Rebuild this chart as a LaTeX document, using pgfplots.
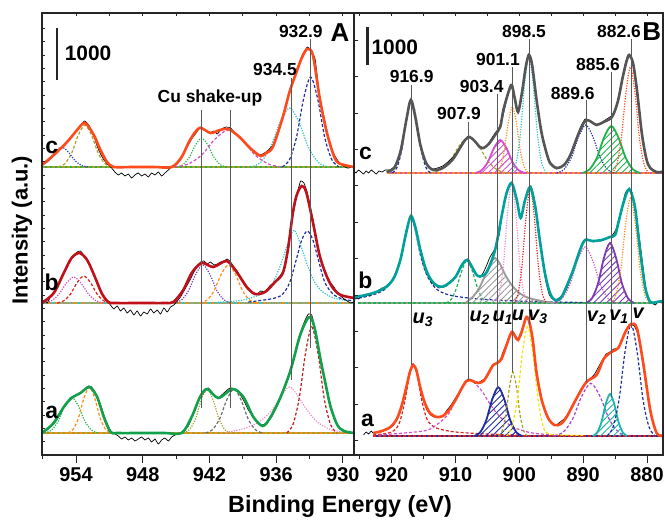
\documentclass[border=0pt]{standalone}
\usepackage{fontspec}
\setmainfont{Liberation Sans}
\usepackage{pgfplots}
\pgfplotsset{compat=1.18}
\usetikzlibrary{patterns.meta}

\definecolor{fitred}{HTML}{FF4A1C}
\definecolor{fitdark}{HTML}{C0101A}
\definecolor{fitgreen}{HTML}{12A14A}
\definecolor{fitgrey}{HTML}{555555}
\definecolor{fitteal}{HTML}{00A19A}
\definecolor{cnavy}{HTML}{1F2E9E}
\definecolor{ccyan}{HTML}{2EC4C4}
\definecolor{colive}{HTML}{A8A024}
\definecolor{cmag}{HTML}{D14FC8}
\definecolor{cpink}{HTML}{F08CCB}
\definecolor{cpurple}{HTML}{7A3CB0}
\definecolor{corange}{HTML}{FF8C1A}
\definecolor{cgreen}{HTML}{22B24C}
\definecolor{cyellow}{HTML}{F2E600}
\definecolor{cblue}{HTML}{2040D0}
\definecolor{cred}{HTML}{E02020}
\definecolor{cgrey}{HTML}{9A9A9A}
\definecolor{cteal}{HTML}{1FB5AA}

\pgfplotsset{
  panel/.style={scale only axis, height=442bp, ymin=0, ymax=442, x dir=reverse,
    axis line style={line width=1.1bp, black!85}, ytick=\empty, xtick pos=bottom,
    tick align=outside, major tick length=8bp, minor tick length=4bp,
    every tick/.style={line width=1bp, black!85},
    /pgf/number format/assume math mode=true,
    xticklabel style={font=\fontsize{20}{20}\selectfont\bfseries, anchor=north, yshift=-1bp},
    no markers},
  inside/.style={scale only axis, height=442bp, ymin=0, ymax=442, x dir=reverse,
    axis line style={line width=1.1bp, black!85}, xtick pos=top, ytick pos=left,
    tick align=inside, major tick length=3.5bp, xticklabels={}, yticklabels={},
    every tick/.style={line width=0.9bp, black!85}},
  fit/.style={smooth, line width=2.6bp, color=#1},
  raw/.style={smooth, tension=0.3, line width=0.7bp, black},
  dsh/.style={smooth, line width=1.2bp, color=#1, dash pattern=on 3bp off 2bp},
  dts/.style={smooth, line width=1.2bp, color=#1, dash pattern=on 1.2bp off 1.4bp},
  hatch/.style={smooth, line width=1.8bp, draw=#1,
    pattern={Lines[angle=45,distance=4.5bp,line width=0.9bp]}, pattern color=#1},
  guide/.style={line width=0.9bp, black!65},
}
\tikzset{lab/.style={font=\fontsize{17.5}{18}\selectfont\bfseries, inner sep=0pt},
  big/.style={font=\fontsize{23}{24}\selectfont\bfseries, inner sep=0pt},
  uv/.style={font=\fontsize{20}{20}\selectfont\bfseries\itshape, inner sep=0pt}}

\begin{document}
\begin{tikzpicture}
\useasboundingbox (-42bp,-66bp) rectangle (623bp,455bp);

% ---------------- panel A : Cu 2p ----------------
\begin{axis}[panel, at={(0bp,0bp)}, anchor=south west, width=312bp,
  xmin=929.0, xmax=957.06,
  xtick={930,936,942,948,954},
  minor xtick={933,939,945,951,957}]

% baselines
\addplot[line width=2bp, cgreen] coordinates {(957.06,288) (929,288)};
\addplot[line width=1.2bp, colive, dash pattern=on 3bp off 2bp] coordinates {(957.06,288) (929,288)};
\addplot[line width=2bp, corange] coordinates {(957.06,152) (929,152)};
\addplot[line width=1.2bp, ccyan, dash pattern=on 1.2bp off 1.4bp] coordinates {(957.06,152) (929,152)};
\addplot[line width=2bp, corange] coordinates {(957.06,22) (929,22)};
\addplot[line width=1.2bp, colive, dash pattern=on 3bp off 2bp] coordinates {(957.06,22) (929,22)};

% c components
\addplot[dsh=colive] coordinates {(955.6,288) (955.0,291.4) (954.4,301.7) (953.8,319.7) (953.2,330) (952.6,319.7) (952.0,301.7) (951.4,291.4) (950.8,288)};
\addplot[dts=cblue] coordinates {(957.7,288) (957.1,289.6) (956.5,294.5) (955.9,303.1) (955.3,308) (954.7,303.1) (954.1,294.5) (953.5,289.6) (952.9,288)};
\addplot[dts=cgreen] coordinates {(944.95,288) (944.39,290.3) (943.83,297.4) (943.26,309.9) (942.7,317) (942.14,309.9) (941.58,297.4) (941.01,290.3) (940.45,288)};
\addplot[dsh=cmag] coordinates {(945.1,288) (943.9,291) (942.7,300) (941.5,315.9) (940.3,325) (939.1,315.9) (937.9,300) (936.7,291) (935.5,288)};
\addplot[dts=ccyan] coordinates {(938.25,288) (937.39,292.7) (936.53,307.2) (935.66,332.5) (934.8,347) (933.94,332.5) (933.08,307.2) (932.21,292.7) (931.35,288)};
\addplot[dsh=cnavy] coordinates {(935.45,288) (934.81,295.2) (934.18,317.3) (933.54,355.9) (932.9,378) (932.26,355.9) (931.63,317.3) (930.99,295.2) (930.35,288)};

% b components
\addplot[dts=cmag] coordinates {(956.9,152) (956.23,154.1) (955.55,160.5) (954.88,171.6) (954.2,178) (953.53,171.6) (952.85,160.5) (952.18,154.1) (951.5,152)};
\addplot[dsh=cred] coordinates {(955.7,152) (955.1,154.2) (954.5,160.8) (953.9,172.4) (953.3,179) (952.7,172.4) (952.1,160.8) (951.5,154.2) (950.9,152)};
\addplot[dts=cpurple] coordinates {(945.15,152) (944.51,155) (943.88,164.4) (943.24,180.7) (942.6,190) (941.96,180.7) (941.33,164.4) (940.69,155) (940.05,152)};
\addplot[dsh=corange] coordinates {(942.85,152) (942.21,155) (941.58,164.4) (940.94,180.7) (940.3,190) (939.66,180.7) (939.03,164.4) (938.39,155) (937.75,152)};
\addplot[dts=ccyan] coordinates {(941.5,152.5) (939.5,154) (938,158) (937,163) (936.3,172) (935.6,190) (935.0,210) (934.4,225) (933.8,210) (933.2,190) (932.5,172) (931.8,163) (930.8,157) (929.5,154)};
\addplot[dsh=cnavy] coordinates {(938.5,153) (936.5,156) (935.5,160) (934.8,172) (934.2,195) (933.7,215) (933.2,224) (932.7,215) (932.2,195) (931.6,172) (930.8,160) (930,156) (929,154)};

% a components
\addplot[dts=cgreen] coordinates {(956.8,22) (956.2,24.9) (955.6,33.7) (955.0,49.2) (954.4,58) (953.8,49.2) (953.2,33.7) (952.6,24.9) (952.0,22)};
\addplot[dsh=corange] coordinates {(954.75,22) (954.26,25.7) (953.78,37) (953.29,56.7) (952.8,68) (952.31,56.7) (951.83,37) (951.34,25.7) (950.85,22)};
\addplot[dts=colive] coordinates {(944.3,22) (943.78,25.5) (943.25,36.3) (942.73,55.2) (942.2,66) (941.68,55.2) (941.15,36.3) (940.63,25.5) (940.1,22)};
\addplot[dsh=cgrey!70!black] coordinates {(942.35,22) (941.71,25.5) (941.08,36.3) (940.44,55.2) (939.8,66) (939.16,55.2) (938.53,36.3) (937.89,25.5) (937.25,22)};
\addplot[dts=cpink] coordinates {(940.5,22.5) (938.7,27) (937.3,35) (936.3,46) (935.5,60) (934.8,68) (934.1,60) (933.3,46) (932.3,33) (931,25) (929.5,22.5)};
\addplot[dsh=cred!85!black] coordinates {(935.05,22) (934.49,30.5) (933.93,56.5) (933.36,102) (932.8,128) (932.24,102) (931.68,56.5) (931.11,30.5) (930.55,22)};

% raw data
\addplot[raw] coordinates {(957.06,290) (956.6,293) (956.2,297) (955.8,302) (955.3,308) (954.8,314) (954.4,318) (954.0,324) (953.6,330) (953.2,334) (952.8,329) (952.4,319) (952.0,306) (951.6,297) (951.2,291) (950.8,287) (950.5,283) (950.2,280) (949.9,282) (949.6,279) (949.3,281) (949.0,277) (948.7,280) (948.4,282) (948.1,279) (947.8,281) (947.5,278) (947.2,282) (946.9,280) (946.6,283) (946.3,279) (946.0,282) (945.7,285) (945.4,288) (945.0,290) (944.5,297) (944.0,308) (943.6,316) (943.2,322) (942.8,328) (942.4,325) (942.0,322) (941.6,324) (941.3,321) (940.9,326) (940.5,328) (940.1,327) (939.7,322) (939.2,317) (938.7,310) (938.2,305) (937.7,300) (937.2,301) (936.8,304) (936.3,310) (935.8,325) (935.3,342) (934.8,364) (934.4,378) (934.0,390) (933.6,401) (933.2,408) (932.9,405) (932.5,396) (932.1,360) (931.7,338) (931.3,318) (930.9,303) (930.5,295) (930.1,290) (929.6,287) (929.0,288)};
\addplot[raw] coordinates {(957.06,153) (956.8,155) (956.6,152) (956.3,158) (956.0,163) (955.7,169) (955.4,176) (955.1,183) (954.8,189) (954.5,196) (954.2,199) (953.9,203) (953.6,204) (953.3,200) (953.0,196) (952.7,188) (952.4,180) (952.1,171) (951.8,164) (951.5,158) (951.2,154) (950.9,150) (950.6,146) (950.3,149) (950.0,144) (949.7,147) (949.4,142) (949.1,145) (948.8,140) (948.5,144) (948.2,139) (947.9,143) (947.6,141) (947.3,146) (947.0,142) (946.7,145) (946.4,141) (946.1,147) (945.8,143) (945.5,148) (945.2,150) (944.9,154) (944.6,158) (944.3,164) (944.0,170) (943.7,176) (943.4,183) (943.1,188) (942.8,193) (942.5,194) (942.2,191) (941.9,193) (941.6,190) (941.3,191) (941.0,193) (940.7,194) (940.4,196) (940.1,193) (939.8,188) (939.5,184) (939.2,178) (938.9,173) (938.6,168) (938.3,164) (938.0,162) (937.7,161) (937.4,164) (937.1,163) (936.8,166) (936.5,170) (936.2,172) (935.9,176) (935.6,180) (935.3,186) (935.0,203) (934.7,225) (934.4,245) (934.1,262) (933.8,274) (933.5,272) (933.2,262) (932.9,246) (932.6,230) (932.3,210) (932.0,195) (931.7,186) (931.4,178) (931.1,172) (930.8,168) (930.5,162) (930.2,159) (929.9,156) (929.6,154) (929.3,152) (929.0,153)};
\addplot[raw] coordinates {(957.06,22) (956.8,24) (956.5,26) (956.2,30) (955.9,35) (955.6,40) (955.3,45) (955.0,50) (954.7,54) (954.4,58) (954.1,59) (953.8,61) (953.5,63) (953.2,66) (952.9,69) (952.6,68) (952.3,63) (952.0,56) (951.7,47) (951.4,37) (951.1,29) (950.8,23) (950.5,21) (950.2,19) (949.9,16) (949.6,18) (949.3,15) (949.0,17) (948.7,14) (948.4,16) (948.1,18) (947.8,15) (947.5,17) (947.2,13) (946.9,16) (946.6,11) (946.3,15) (946.0,17) (945.7,14) (945.4,18) (945.1,20) (944.8,21) (944.5,23) (944.2,26) (943.9,29) (943.6,37) (943.3,45) (943.0,54) (942.7,60) (942.4,64) (942.1,67) (941.8,63) (941.5,59) (941.2,57) (940.9,60) (940.6,63) (940.3,66) (940.0,67) (939.7,65) (939.4,63) (939.1,58) (938.8,52) (938.5,45) (938.2,40) (937.9,35) (937.6,32) (937.3,30) (937.0,31) (936.7,34) (936.4,38) (936.1,45) (935.8,52) (935.5,60) (935.2,68) (934.9,77) (934.6,88) (934.3,102) (934.0,116) (933.7,126) (933.4,135) (933.1,141) (932.8,140) (932.5,126) (932.2,108) (931.9,90) (931.6,72) (931.3,57) (931.0,44) (930.7,35) (930.4,28) (930.1,25) (929.8,23) (929.4,22) (929.0,22)};

% fitted envelopes
\addplot[fit=fitred] coordinates {(957.06,290) (956.0,300) (954.8,313) (953.9,325) (953.2,332) (952.4,320) (951.8,305) (951.2,293) (950.6,288) (949,288) (947,288) (945.4,288) (944.5,298) (943.75,315) (942.9,327) (941.9,322) (941.05,325) (940.3,326) (939.3,318) (938.35,307) (937.4,299) (936.9,302) (936.3,308) (935.4,338) (934.8,363) (934.2,382) (933.7,397) (933.2,406) (932.7,400) (932.1,358) (931.5,325) (930.9,302) (930.4,292) (929.0,288)};
\addplot[fit=fitdark] coordinates {(957.06,152) (956.0,162) (955.1,182) (954.4,197) (953.7,202) (953.0,195) (952.3,178) (951.7,162) (951.1,153) (950.5,152) (948,152) (946,152) (945.25,153) (944.35,165) (943.6,182) (942.7,192) (941.65,188) (940.45,194) (939.55,183) (938.65,168) (937.9,161) (937.0,163) (936.1,173) (935.4,182) (934.95,205) (934.5,242) (934.15,260) (933.7,269) (933.3,263) (932.7,233) (932.1,200) (931.5,180) (930.9,167) (930.2,160) (929.0,157)};
\addplot[fit=fitgreen] coordinates {(957.06,22) (956.0,32) (955.1,48) (954.4,57) (953.6,62) (952.8,68) (952.1,58) (951.5,38) (950.9,23) (950.3,22) (948,22) (946,22) (944.5,22) (943.6,38) (942.85,58) (942.2,66) (941.2,57) (939.9,66) (938.95,58) (938.05,38) (937.2,29) (936.5,38) (935.6,58) (934.7,85) (933.9,118) (933.3,134) (932.9,138) (932.5,125) (932.0,95) (931.5,68) (931.1,48) (930.5,30) (929.9,24) (929.0,22)};

% guide lines
\addplot[guide] coordinates {(942.7,345) (942.7,47)};
\addplot[guide] coordinates {(940.1,345) (940.1,47)};
\addplot[guide] coordinates {(934.6,377) (934.6,75)};
\addplot[guide] coordinates {(932.9,416) (932.9,107)};
\addplot[line width=2.5bp, black!85] coordinates {(955.73,427) (955.73,375)};

\node[big] at (axis cs:956.19,308) {c};
\node[big] at (axis cs:956.19,173) {b};
\node[big] at (axis cs:956.19,43) {a};
\node[lab] at (axis cs:941.95,357) {Cu shake-up};
\node[lab] at (axis cs:936.11,385) {934.5};
\node[lab] at (axis cs:933.78,423) {932.9};
\node[font=\fontsize{26}{26}\selectfont\bfseries, inner sep=0pt] at (axis cs:930.27,422) {A};
\node[font=\fontsize{21}{21}\selectfont\bfseries, inner sep=0pt] at (axis cs:952.92,402) {1000};
\end{axis}
\begin{axis}[inside, at={(0bp,0bp)}, anchor=south west, width=312bp,
  xmin=929.0, xmax=957.06, xtick={930,933,...,957},
  ytick={13.333,26.667,...,427}]
\end{axis}

% ---------------- panel B : Ce 3d ----------------
\begin{axis}[panel, at={(312bp,0bp)}, anchor=south west, width=309bp,
  xmin=877.5, xmax=925.9,
  xtick={880,890,900,910,920},
  minor xtick={885,895,905,915,925}]

% baselines
\addplot[line width=2bp, cmag] coordinates {(920.8,282) (877.7,282)};
\addplot[line width=1.2bp, corange, dash pattern=on 3bp off 2bp] coordinates {(920.8,282) (877.7,282)};
\addplot[line width=2.2bp, cgrey] coordinates {(925.3,152) (878.8,152)};
\addplot[line width=1.2bp, cgreen, dash pattern=on 3bp off 2bp] coordinates {(925.3,152) (878.8,152)};
\addplot[line width=2.6bp, cnavy] coordinates {(922.9,19) (878,19)};
\addplot[line width=1.2bp, cred, dash pattern=on 3bp off 2bp] coordinates {(922.9,19) (878,19)};

% c components
\addplot[dsh=cnavy] coordinates {(919.9,282) (919.15,287.8) (918.4,305.7) (917.65,337.1) (916.9,355) (916.15,337.1) (915.4,305.7) (914.65,287.8) (913.9,282)};
\addplot[dsh=colive] coordinates {(913.9,282) (912.4,284.9) (910.9,293.7) (909.4,309.2) (907.9,318) (906.4,309.2) (904.9,293.7) (903.4,284.9) (901.9,282)};
\addplot[hatch=cmag] coordinates {(906.9,282) (905.93,284.6) (904.95,292.7) (903.98,306.9) (903.0,315) (902.03,306.9) (901.05,292.7) (900.08,284.6) (899.1,282)};
\addplot[dts=corange] coordinates {(903.65,282) (903.01,287.3) (902.38,303.5) (901.74,331.8) (901.1,348) (900.46,331.8) (899.83,303.5) (899.19,287.3) (898.55,282)};
\addplot[dts=ccyan] coordinates {(901.2,282) (900.53,291.4) (899.85,320) (899.18,370.3) (898.5,399) (897.83,370.3) (897.15,320) (896.48,291.4) (895.8,282)};
\addplot[dts=cnavy] coordinates {(894.1,282) (892.98,285.8) (891.85,297.6) (890.73,318.2) (889.6,330) (888.48,318.2) (887.35,297.6) (886.23,285.8) (885.1,282)};
\addplot[hatch=cgreen] coordinates {(890.1,282) (888.98,285.8) (887.85,297.3) (886.73,317.5) (885.6,329) (884.48,317.5) (883.35,297.3) (882.23,285.8) (881.1,282)};
\addplot[dts=fitred] coordinates {(885.45,282) (884.74,290.5) (884.03,316.5) (883.31,362) (882.6,388) (881.89,362) (881.18,316.5) (880.46,290.5) (879.75,282)};

% b components
\addplot[dsh=cnavy] coordinates {(925.9,156) (923,160) (921,166) (919.5,180) (918.5,200) (917.7,225) (917,239) (916.3,225) (915.5,200) (914.5,180) (913,166) (911,160) (908,157) (904,155) (898,153.5) (890,152.5)};
\addplot[dsh=cgreen] coordinates {(911.5,152) (910.7,155.4) (909.9,166) (909.0,184.5) (908.2,195) (907.4,184.5) (906.5,166) (905.7,155.4) (904.9,152)};
\addplot[hatch=cgrey] coordinates {(908.5,152) (907.3,158) (906.2,168) (905.2,182) (904.4,193) (903.8,197) (903.1,192) (902.2,180) (901.2,170) (900,162) (898.5,157) (896.5,154) (894.5,152)};
\addplot[dts=cpink] coordinates {(903.75,152) (903.11,161.6) (902.48,191) (901.84,242.6) (901.2,272) (900.56,242.6) (899.93,191) (899.29,161.6) (898.65,152)};
\addplot[dts=cred] coordinates {(900.85,152) (900.21,161.2) (899.58,189.4) (898.94,238.8) (898.3,267) (897.66,238.8) (897.03,189.4) (896.39,161.2) (895.75,152)};
\addplot[dts=cmag] coordinates {(894.5,152) (893.3,156.5) (892.1,170.2) (890.9,194.3) (889.7,208) (888.5,194.3) (887.3,170.2) (886.1,156.5) (884.9,152)};
\addplot[hatch=cpurple] coordinates {(889.55,152) (888.61,156.8) (887.68,171.5) (886.74,197.3) (885.8,212) (884.86,197.3) (883.93,171.5) (882.99,156.8) (882.05,152)};
\addplot[dts=corange] coordinates {(885.6,152) (884.85,160.4) (884.1,186.1) (883.35,231.3) (882.6,257) (881.85,231.3) (881.1,186.1) (880.35,160.4) (879.6,152)};

% a components
\addplot[dsh=cred] coordinates {(922.9,20) (920,23) (918.8,32) (917.9,55) (917.2,80) (916.6,90) (916.0,80) (915.3,55) (914.4,35) (913,27) (910,23) (905,21) (900,20)};
\addplot[dsh=cmag] coordinates {(922,20) (915,24) (913,30) (911,42) (909.5,62) (907.8,75) (906,65) (904.5,50) (903,38) (901,28) (898,22) (894,20)};
\addplot[hatch=cnavy] coordinates {(907.05,19) (906.11,22.9) (905.18,34.9) (904.24,55.8) (903.3,67.7) (902.36,55.8) (901.43,34.9) (900.49,22.9) (899.55,19)};
\addplot[dsh=colive] coordinates {(903.25,19) (902.69,24.1) (902.13,39.8) (901.56,67.3) (901.0,83) (900.44,67.3) (899.88,39.8) (899.31,24.1) (898.75,19)};
\addplot[dsh=cyellow] coordinates {(902.0,19) (901.18,27.8) (900.35,54.5) (899.53,101.4) (898.7,128.3) (897.88,101.4) (897.05,54.5) (896.23,27.8) (895.4,21) (893,20) (890,19.5)};
\addplot[dsh=cmag!80!blue] coordinates {(894.5,19) (893.08,23.2) (891.65,36.1) (890.23,58.8) (888.8,71.7) (887.38,58.8) (885.95,36.1) (884.53,23.2) (883.1,19)};
\addplot[hatch=cteal] coordinates {(888.5,19) (887.83,22.4) (887.15,32.7) (886.48,50.7) (885.8,61) (885.13,50.7) (884.45,32.7) (883.78,22.4) (883.1,19)};
\addplot[dsh=cnavy] coordinates {(886.25,19) (885.31,28) (884.38,55.4) (883.44,103.6) (882.5,131) (881.56,103.6) (880.63,55.4) (879.69,28) (878.75,19)};

% raw data
\addplot[raw] coordinates {(925.9,284) (925.6,282) (925.2,285) (924.8,283) (924.4,281) (924.0,284) (923.6,282) (923.2,285) (922.8,283) (922.4,281) (922.0,284) (921.5,283) (921,285) (920.3,285) (919.5,289) (918.8,300) (918.2,318) (917.6,340) (917.0,356) (916.5,345) (916.0,325) (915.4,307) (914.8,295) (914.2,288) (913.5,286) (912.8,287) (912,289) (911.2,293) (910.4,298) (909.6,305) (908.8,313) (908.0,319) (907.4,317) (906.8,312) (906.2,309) (905.6,307) (905.0,310) (904.4,316) (903.8,322) (903.2,327) (902.6,338) (902.0,355) (901.5,366) (901.1,371) (900.7,357) (900.3,345) (899.9,350) (899.4,370) (899.0,388) (898.6,401) (898.2,396) (897.7,375) (897.2,350) (896.6,325) (896.0,307) (895.4,294) (894.8,289) (894.2,286) (893.5,288) (892.8,292) (892.0,299) (891.2,314) (890.4,328) (889.7,336) (889.0,334) (888.3,331) (887.7,331) (887.0,333) (886.3,336) (885.6,339) (885.0,345) (884.4,360) (883.8,380) (883.3,394) (882.8,401) (882.3,394) (881.8,372) (881.2,342) (880.6,312) (880.0,293) (879.4,286) (878.8,283) (878.3,282) (877.8,284) (877.5,283)};
\addplot[raw] coordinates {(925.9,157) (925.6,158) (925.2,156) (924.8,159) (924.4,158) (924.0,161) (923.5,159) (923.0,162) (922.5,163) (922.0,165) (921.5,167) (921.0,168) (920.5,171) (920.0,174) (919.5,180) (919.0,188) (918.5,199) (918.0,214) (917.5,229) (917.0,240) (916.5,232) (916.0,218) (915.5,203) (915.0,190) (914.4,180) (913.8,173) (913.2,170) (912.6,167) (912.0,168) (911.4,169) (910.8,173) (910.2,177) (909.6,183) (909.0,191) (908.5,195) (908.0,196) (907.5,190) (907.0,183) (906.5,179) (906.1,178) (905.6,183) (905.1,190) (904.6,198) (904.1,203) (903.6,210) (903.1,222) (902.6,244) (902.1,260) (901.6,270) (901.2,273) (900.8,264) (900.4,254) (899.9,238) (899.4,247) (899.0,258) (898.6,266) (898.2,269) (897.8,261) (897.3,240) (896.8,215) (896.3,190) (895.8,172) (895.3,160) (894.8,156) (894.3,155) (893.8,157) (893.2,160) (892.6,166) (892.0,176) (891.4,188) (890.8,200) (890.2,211) (889.6,216) (889.0,215) (888.4,213) (887.8,214) (887.2,214) (886.6,216) (886.0,217) (885.4,220) (884.9,225) (884.4,236) (883.9,249) (883.4,262) (882.9,266) (882.4,263) (881.9,248) (881.3,222) (880.7,192) (880.2,167) (879.7,154) (879.2,152) (878.7,150) (878.2,154) (877.8,152) (877.5,153)};
\addplot[raw] coordinates {(924.4,20) (924.0,23) (923.6,21) (923.2,24) (922.9,22) (922.3,23) (921.6,24) (921.0,26) (920.3,27) (919.7,30) (919.1,36) (918.6,44) (918.1,56) (917.6,70) (917.1,84) (916.7,91) (916.3,87) (915.9,78) (915.4,63) (914.9,52) (914.4,44) (913.9,40) (913.4,38) (912.9,38) (912.4,38) (911.9,40) (911.3,45) (910.7,50) (910.1,56) (909.5,62) (909.0,68) (908.5,73) (908.0,76) (907.5,75) (907.0,72) (906.5,72) (906.0,74) (905.5,76) (905.0,81) (904.5,87) (904.0,90) (903.5,92) (903.0,95) (902.5,104) (902.0,111) (901.5,119) (901.1,123) (900.6,119) (900.2,116) (899.7,120) (899.3,130) (898.9,138) (898.5,134) (898.1,121) (897.6,98) (897.1,77) (896.5,56) (896.0,44) (895.4,35) (894.8,31) (894.2,30) (893.6,33) (893.0,36) (892.4,41) (891.8,48) (891.2,55) (890.6,63) (890.0,69) (889.4,73) (888.8,77) (888.2,81) (887.6,88) (887.0,95) (886.4,101) (885.8,103) (885.2,106) (884.6,107) (884.0,114) (883.5,122) (883.0,128) (882.5,131) (882.0,129) (881.5,122) (881.0,106) (880.5,84) (880.0,62) (879.5,43) (879.0,31) (878.5,22) (878.0,20) (877.5,20)};

% fitted envelopes
\addplot[fit=fitgrey] coordinates {(920.8,283) (919.6,287) (918.6,304) (917.7,335) (917.0,355) (916.3,338) (915.5,310) (914.6,292) (913.5,285) (912.0,287) (910.5,295) (909.3,307) (908.5,315) (907.8,318) (907.0,314) (906.2,308) (905.6,307) (904.8,311) (903.8,320) (903.0,328) (902.5,345) (901.7,363) (901.2,370) (900.7,356) (900.2,343) (899.6,362) (899.0,388) (898.5,400) (898.0,390) (897.3,355) (896.6,325) (896.0,308) (895.2,292) (894.1,287) (893.0,290) (892.0,300) (891.0,317) (890.2,329) (889.5,335) (888.7,333) (887.9,330) (886.8,333) (885.5,338) (884.6,353) (883.8,378) (883.2,394) (882.8,400) (882.2,392) (881.6,366) (880.8,321) (880.1,296) (879.5,287) (878.5,283) (877.5,283)};
\addplot[fit=fitteal] coordinates {(925.9,158) (924,160) (922,164) (920.5,170) (919.5,179) (918.6,196) (917.8,220) (917.0,239) (916.3,228) (915.5,205) (914.6,185) (913.7,174) (912.8,169) (911.9,168.5) (911.0,172) (910.0,178) (909.0,190) (908.2,195) (907.4,188) (906.8,181) (906.2,178.5) (905.1,183) (903.8,205) (902.8,238) (902.0,262) (901.2,272) (900.4,255) (899.8,237) (899.1,255) (898.3,268) (897.5,248) (896.8,215) (896.0,182) (895.2,162) (894.4,155) (893.4,158) (891.8,181) (890.5,205) (889.7,215) (888.6,214) (887.1,215) (885.8,218) (885.0,220) (884.5,232) (883.7,252) (882.8,266) (881.9,248) (881.1,205) (880.3,168) (879.5,153) (878.5,153) (877.5,154)};
\addplot[fit=fitred] coordinates {(922.9,22) (921.5,24) (920.2,28) (919.2,36) (918.4,50) (917.7,68) (917.1,84) (916.6,90) (916.1,84) (915.5,67) (914.8,52) (914.0,42) (913.0,38) (912.0,39) (911.0,45) (910.0,55) (909.0,67) (908.3,74) (907.7,75) (907.0,73) (906.4,72) (905.6,74) (904.9,81) (904.1,90) (903.5,92) (902.8,96) (902.0,110) (901.2,123) (900.6,118) (900.2,115) (899.6,124) (898.9,138) (898.4,132) (897.9,115) (897.3,82) (896.5,55) (895.5,37) (894.5,30) (893.5,31) (892.6,38) (891.1,56) (889.5,73) (887.9,80) (886.8,96) (885.6,103) (884.5,107) (883.4,123) (882.5,131) (881.6,127) (880.6,92) (879.5,45) (878.5,22) (877.5,19)};

% guide lines
\addplot[guide] coordinates {(916.9,370) (916.9,90)};
\addplot[guide] coordinates {(907.9,333) (907.9,75)};
\addplot[guide] coordinates {(903.4,361) (903.4,67)};
\addplot[guide] coordinates {(901.1,388) (901.1,83)};
\addplot[guide] coordinates {(898.45,416) (898.45,130)};
\addplot[guide] coordinates {(889.55,355) (889.55,73)};
\addplot[guide] coordinates {(885.6,383) (885.6,58)};
\addplot[guide] coordinates {(882.5,416) (882.5,127)};
\addplot[line width=2.5bp, black!85] coordinates {(923.8,428) (923.8,390)};

\node[big] at (axis cs:924.1,302) {c};
\node[big] at (axis cs:924.1,175) {b};
\node[big] at (axis cs:923.8,35) {a};
\node[font=\fontsize{21}{21}\selectfont\bfseries, inner sep=0pt] at (axis cs:919.5,408) {1000};
\node[font=\fontsize{26}{26}\selectfont\bfseries, inner sep=0pt] at (axis cs:879.27,423) {B};
\node[lab] at (axis cs:916.87,378) {916.9};
\node[lab] at (axis cs:909.46,341) {907.9};
\node[lab] at (axis cs:905.9,368) {903.4};
\node[lab] at (axis cs:903.35,395) {901.1};
\node[lab] at (axis cs:899.27,423) {898.5};
\node[lab] at (axis cs:891.64,361) {889.6};
\node[lab] at (axis cs:887.68,390) {885.6};
\node[lab] at (axis cs:884.39,423) {882.6};
\node[uv] at (axis cs:915.1,135) {u\textsubscript{3}};
\node[uv] at (axis cs:906.2,137) {u\textsubscript{2}};
\node[uv] at (axis cs:902.6,137) {u\textsubscript{1}};
\node[uv] at (axis cs:900.2,140) {u};
\node[uv] at (axis cs:897.1,138) {v\textsubscript{3}};
\node[uv] at (axis cs:887.9,137) {v\textsubscript{2}};
\node[uv] at (axis cs:884.4,138) {v\textsubscript{1}};
\node[uv] at (axis cs:881.4,142) {v};
\end{axis}
\begin{axis}[inside, at={(312bp,0bp)}, anchor=south west, width=309bp,
  xmin=877.5, xmax=925.9, xtick={880,885,...,925},
  ytick={14.3,50.7,...,415}]
\end{axis}

\node[font=\fontsize{23.5}{24}\selectfont\bfseries] at (298bp,-51bp) {Binding Energy (eV)};
\node[font=\fontsize{22}{22}\selectfont\bfseries, rotate=90] at (-20bp,225bp) {Intensity (a.u.)};
\end{tikzpicture}
\end{document}
